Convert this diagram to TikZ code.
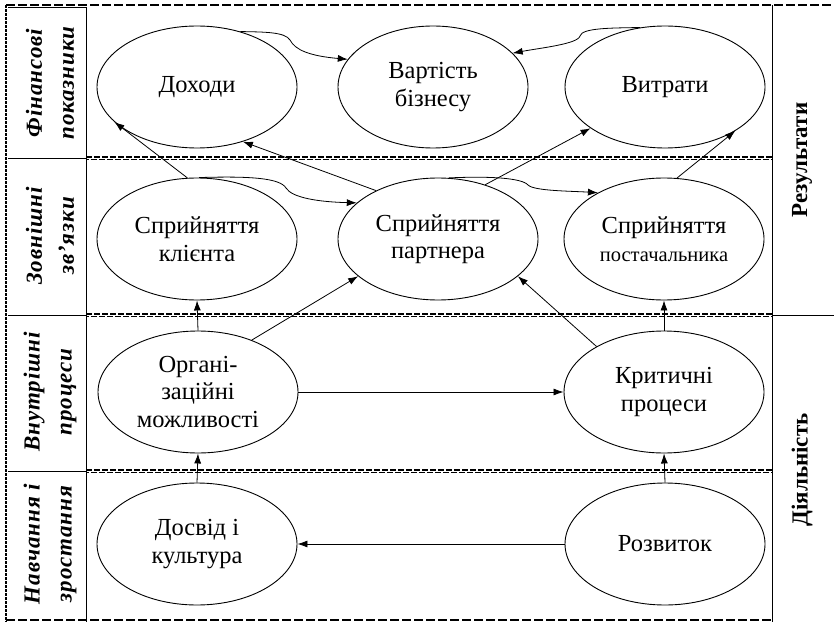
\documentclass[tikz,border=0pt]{standalone}
\usepackage{fontspec}
\setmainfont{Liberation Serif}
\usetikzlibrary{shapes.geometric,arrows.meta}
\begin{document}
\begin{tikzpicture}[x=1pt,y=1pt,
  oval/.style={ellipse,draw,line width=0.9pt,inner sep=0pt,
    minimum width=200pt,minimum height=122pt,align=center,
    font=\fontsize{24.5}{27.5}\selectfont},
  arr/.style={line width=0.8pt,-{Latex[length=10pt,width=7pt]}},
  rowlabel/.style={rotate=90,align=center,
    font=\fontsize{23}{32}\selectfont\bfseries\itshape\addfontfeature{LetterSpace=4}},
  sidelabel/.style={rotate=90,font=\fontsize{23}{26}\selectfont\bfseries},
  outer/.style={line width=2.4pt,dash pattern=on 9pt off 3pt},
  band/.style={line width=1.6pt,dash pattern=on 6pt off 2pt},
  rule/.style={line width=0.9pt}
]
\useasboundingbox (0,0) rectangle (834,622);

% label columns
\draw[rule] (8,615) -- (86,615) (86,615) -- (86,0);
\foreach \yy in {464,307,151} \draw[rule] (8,\yy) -- (86,\yy);
\draw[rule] (772,617) -- (772,0) (772,307) -- (834,307);

% outer dashed frame
\draw[outer] (6,617) -- (834,617);
\draw[outer,dash pattern=on 3pt off 1pt] (6,617) -- (6,0);
\draw[outer] (6,2) -- (772,2);

% lane separators
\foreach \yy in {464,307,151} {
  \draw[band] (86,\yy+1) -- (772,\yy+1);
  \draw[band,dash phase=3pt,line width=1pt] (86,\yy-1.4) -- (772,\yy-1.4);
}

% lane titles
\node[rowlabel] (tfin) at (50,539) {Фінансові\\показники};
\node[rowlabel] (tzov) at (50,386) {Зовнішні\\зв’язки};
\node[rowlabel] (tvnu) at (50,230) {Внутрішні\\процеси};
\node[rowlabel] (tnav) at (50,78) {Навчання і\\зростання};
\node[sidelabel] (tres) at (802,462) {Результати};
\node[sidelabel] (tdia) at (802,152) {Діяльність};

% goals
\node[oval] (dohody) at (197,535) {Доходи};
\node[oval,minimum width=190pt] (vartist) at (433,535) {Вартість\\бізнесу};
\node[oval] (vytraty) at (665,535) {Витрати};
\node[oval] (klient) at (197,383) {Сприйняття\\клієнта};
\node[oval] (partner) at (438,383) {Сприйняття\\партнера};
\node[oval] (postach) at (664,383) {Сприйняття\\{\fontsize{20.5}{27.5}\selectfont постачальника}};
\node[oval] (orgcap) at (198,230) {Органі-\\заційні\\можливості};
\node[oval] (krit) at (664,230) {Критичні\\процеси};
\node[oval] (dosvid) at (197,78) {Досвід і\\культура};
\node[oval] (rozvytok) at (665,78) {Розвиток};

% links
\draw[arr] (dohody.52) .. controls (265,590) and (285,590) .. (290,582)
  .. controls (295,572) and (310,566) .. (vartist.162);
\draw[arr] (vytraty.113) .. controls (610,594) and (582,594) .. (580,586)
  .. controls (578,578) and (540,574) .. (vartist.23);
\draw[arr] (klient.99) -- (dohody.203);
\draw[arr] (partner.142) -- (dohody.-50);
\draw[arr] (klient.88) .. controls (250,446) and (280,444) .. (286,434)
  .. controls (292,424) and (320,420) .. (partner.156);
\draw[arr] (partner.49) -- (vytraty.209);
\draw[arr] (postach.78) -- (vytraty.-32);
\draw[arr] (partner.80) .. controls (490,446) and (522,444) .. (528,437)
  .. controls (534,431) and (570,431) .. (postach.145);
\draw[arr] (orgcap.north) -- (klient.south);
\draw[arr] (orgcap.44) -- (partner.205);
\draw[arr] (krit.146) -- (partner.-25);
\draw[arr] (krit.north) -- (postach.south);
\draw[arr] (orgcap.east) -- (krit.west);
\draw[arr] (dosvid.north) -- (orgcap.south);
\draw[arr] (rozvytok.north) -- (krit.south);
\draw[arr] (rozvytok.west) -- (dosvid.east);
\end{tikzpicture}
\end{document}
